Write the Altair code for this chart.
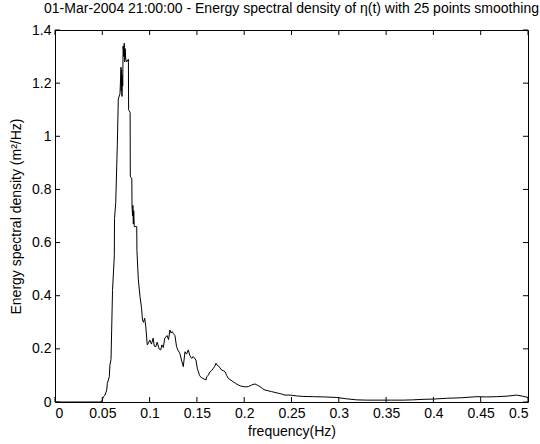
import altair as alt
import pandas as pd

# ---- data ----
freq = [0.0, 0.01, 0.02, 0.03, 0.04, 0.047, 0.0494, 0.0511, 0.0529, 0.0547, 0.0553,
        0.0574, 0.0581, 0.0592, 0.0599, 0.0608, 0.0627, 0.0629, 0.0642, 0.0659, 0.0669,
        0.0687, 0.0698, 0.0700, 0.0704, 0.0708, 0.0712, 0.0716, 0.0720, 0.0727, 0.0732,
        0.0737, 0.0742, 0.0748, 0.0757, 0.0776, 0.0778, 0.0794, 0.0796, 0.0812, 0.0814,
        0.0820, 0.0823, 0.0828, 0.0832, 0.0838, 0.0864, 0.0866, 0.0881, 0.0899, 0.0915,
        0.0925, 0.0935, 0.0948, 0.0960, 0.0975, 0.0985, 0.1003, 0.1020, 0.1037, 0.1050,
        0.1065, 0.1080, 0.1100, 0.1118, 0.1130, 0.1145, 0.1160, 0.1185, 0.1200, 0.1215,
        0.1225, 0.1240, 0.1250, 0.1268, 0.1285, 0.1300, 0.1320, 0.1337, 0.1356, 0.1374,
        0.1390, 0.1409, 0.1425, 0.1445, 0.1462, 0.1490, 0.1504, 0.1528, 0.1545, 0.1562,
        0.1597, 0.1603, 0.1620, 0.1639, 0.1655, 0.1674, 0.1690, 0.1702, 0.1715, 0.1730,
        0.1745, 0.1762, 0.1780, 0.1797, 0.1815, 0.1832, 0.1860, 0.1884, 0.1910, 0.1937,
        0.1965, 0.1990, 0.2020, 0.2044, 0.2079, 0.2114, 0.2140, 0.2167, 0.2195, 0.2220,
        0.2255, 0.2290, 0.2325, 0.2360, 0.2395, 0.2431, 0.2485, 0.2550, 0.2620, 0.2730,
        0.2850, 0.2980, 0.3080, 0.3190, 0.3300, 0.3436, 0.3560, 0.3680, 0.3780, 0.3890,
        0.4000, 0.4140, 0.4300, 0.4460, 0.4560, 0.4670, 0.4780, 0.4880, 0.4940, 0.5000]
esd = [0.0, 0.0, 0.0, 0.0, 0.0, 0.0, 0.002, 0.019, 0.026, 0.045, 0.07,
       0.095, 0.14, 0.16, 0.27, 0.42, 0.55, 0.69, 0.75, 0.97, 1.14,
       1.16, 1.26, 1.17, 1.25, 1.15, 1.23, 1.19, 1.34, 1.30, 1.35,
       1.28, 1.33, 1.29, 1.28, 1.29, 1.10, 1.09, 0.85, 0.84, 0.74,
       0.70, 0.74, 0.67, 0.72, 0.66, 0.66, 0.57, 0.46, 0.396, 0.353,
       0.309, 0.30, 0.315, 0.283, 0.215, 0.22, 0.233, 0.218, 0.24, 0.21,
       0.208, 0.225, 0.20, 0.196, 0.215, 0.205, 0.24, 0.25, 0.235, 0.271,
       0.26, 0.265, 0.258, 0.25, 0.208, 0.195, 0.183, 0.158, 0.133, 0.189,
       0.18, 0.196, 0.175, 0.164, 0.171, 0.158, 0.127, 0.10, 0.092, 0.089,
       0.083, 0.095, 0.10, 0.114, 0.118, 0.127, 0.135, 0.146, 0.138, 0.135,
       0.128, 0.12, 0.118, 0.114, 0.10, 0.089, 0.082, 0.076, 0.070, 0.064,
       0.060, 0.058, 0.057, 0.058, 0.064, 0.068, 0.063, 0.058, 0.050, 0.045,
       0.042, 0.039, 0.036, 0.033, 0.030, 0.026, 0.026, 0.023, 0.021, 0.020,
       0.019, 0.017, 0.012, 0.008, 0.007, 0.007, 0.007, 0.007, 0.008, 0.010,
       0.011, 0.014, 0.016, 0.020, 0.019, 0.020, 0.022, 0.026, 0.022, 0.017]

x_ticks = [0, 0.05, 0.1, 0.15, 0.2, 0.25, 0.3, 0.35, 0.4, 0.45, 0.5]
y_ticks = [0, 0.2, 0.4, 0.6, 0.8, 1, 1.2, 1.4]

title_text = "01-Mar-2004 21:00:00 - Energy spectral density of \u03b7(t) with 25 points smoothing"
x_title = "frequency(Hz)"
y_title = "Energy spectral density (m\u00b2/Hz)"

W, H = 473, 372
TICK = 5
FONT = "Liberation Sans"
FS = 14

df = pd.DataFrame({"f": freq, "e": esd})
xt = pd.DataFrame({"f": x_ticks})
yt = pd.DataFrame({"e": y_ticks})

xscale = alt.Scale(domain=[0, 0.5], nice=False, zero=False)
yscale = alt.Scale(domain=[0, 1.4], nice=False, zero=False)
xaxis = alt.Axis(values=x_ticks, format="~g", title=x_title, tickSize=0,
                 labelPadding=4, titlePadding=4)
yaxis = alt.Axis(values=y_ticks, format="~g", title=y_title, tickSize=0,
                 labelPadding=4, titlePadding=8)

X = alt.X("f:Q", scale=xscale, axis=xaxis)
Y = alt.Y("e:Q", scale=yscale, axis=yaxis)

line = alt.Chart(df).mark_line(color="black", strokeWidth=1, clip=True).encode(x=X, y=Y)

xb = alt.Chart(xt).mark_rule(color="black", strokeWidth=1).encode(
    x=X, y=alt.value(H), y2=alt.value(H - TICK))
xtop = alt.Chart(xt).mark_rule(color="black", strokeWidth=1).encode(
    x=X, y=alt.value(0), y2=alt.value(TICK))
yl = alt.Chart(yt).mark_rule(color="black", strokeWidth=1).encode(
    y=Y, x=alt.value(0), x2=alt.value(TICK))
yr = alt.Chart(yt).mark_rule(color="black", strokeWidth=1).encode(
    y=Y, x=alt.value(W), x2=alt.value(W - TICK))

chart = alt.layer(line, xb, xtop, yl, yr).properties(
    width=W, height=H,
    title=alt.TitleParams(title_text, font=FONT, fontSize=FS, fontWeight="normal",
                          color="black", anchor="middle", offset=7),
    autosize=alt.AutoSizeParams(type="none"),
    padding={"left": 55, "top": 30, "right": 12, "bottom": 42},
    background="white",
).configure_view(
    stroke="black", strokeWidth=1
).configure_axis(
    grid=False, domain=False, labelFont=FONT, labelFontSize=FS, labelColor="black",
    titleFont=FONT, titleFontSize=FS, titleFontWeight="normal", titleColor="black",
)

chart.save("out.html", embed_options={"renderer": "svg", "actions": False})
